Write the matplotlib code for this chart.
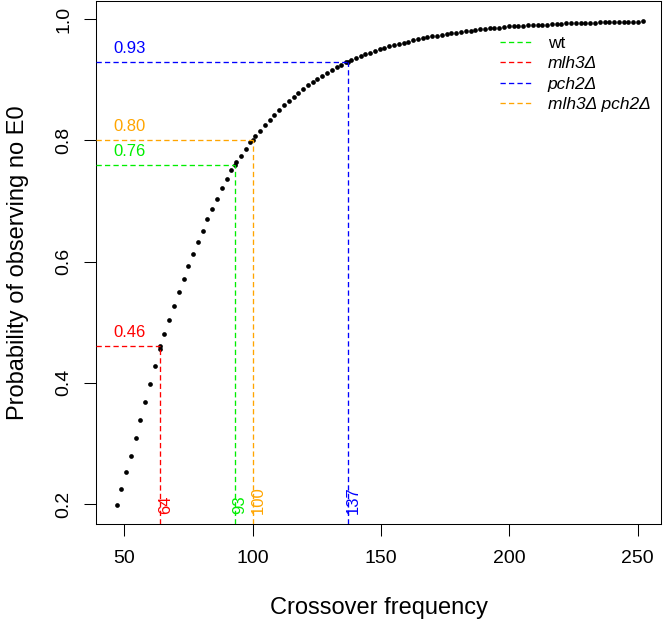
import numpy as np
import matplotlib
matplotlib.use("Agg")
import matplotlib.pyplot as plt
from matplotlib.lines import Line2D

plt.rcParams['font.family'] = ['Liberation Sans', 'DejaVu Sans']
plt.rcParams['lines.scale_dashes'] = False

# crossover frequency grid (evenly spaced) and probability of observing no E0
co_freq = np.linspace(47, 252, 111)
p_no_e0 = [
    0.198, 0.225, 0.252, 0.280, 0.309, 0.339, 0.368, 0.398, 0.427, 0.456,
    0.481, 0.504, 0.527, 0.549, 0.571, 0.592, 0.613, 0.632, 0.651, 0.670,
    0.687, 0.704, 0.721, 0.736, 0.751, 0.764, 0.775, 0.786, 0.797, 0.807,
    0.816, 0.825, 0.834, 0.842, 0.850, 0.858, 0.865, 0.872, 0.879, 0.885,
    0.891, 0.896, 0.902, 0.907, 0.912, 0.916, 0.921, 0.925, 0.929, 0.933,
    0.936, 0.939, 0.942, 0.945, 0.948, 0.950, 0.953, 0.955, 0.957, 0.959,
    0.961, 0.963, 0.965, 0.967, 0.969, 0.970, 0.972, 0.973, 0.974, 0.976,
    0.977, 0.978, 0.979, 0.980, 0.981, 0.982, 0.983, 0.984, 0.985, 0.986,
    0.986, 0.987, 0.988, 0.988, 0.989, 0.989, 0.990, 0.990, 0.990, 0.991,
    0.991, 0.992, 0.992, 0.992, 0.993, 0.993, 0.993, 0.994, 0.994, 0.994,
    0.994, 0.995, 0.995, 0.995, 0.995, 0.996, 0.996, 0.996, 0.996, 0.996,
    0.997,
]

# observed genotypes
genotypes = ['wt', 'mlh3Δ', 'pch2Δ', 'mlh3Δ pch2Δ']
geno_co = [93, 64, 137, 100]
geno_p = [0.76, 0.46, 0.93, 0.80]
geno_colors = ['#00ee00', '#ff0000', '#0000ff', '#ffa500']
geno_italic = [False, True, True, True]

x_ticks = [50, 100, 150, 200, 250]
y_ticks = [0.2, 0.4, 0.6, 0.8, 1.0]
x_lim = (39.0, 259.1)
y_lim = (0.167, 1.030)

dash = (0, (3.8, 2.3))
lw = 0.95

fig = plt.figure(figsize=(6.67, 6.22), dpi=100)
ax = fig.add_axes([96 / 667, 1 - 524 / 622, 565 / 667, 523 / 622])
ax.set_xlim(*x_lim)
ax.set_ylim(*y_lim)

ax.plot(co_freq, p_no_e0, 'o', color='black', markersize=3.4,
        markeredgewidth=0, zorder=2)
ax.plot(geno_co, geno_p, 'o', color='black', markersize=3.4,
        markeredgewidth=0, zorder=2)

for x, p, c in zip(geno_co, geno_p, geno_colors):
    ax.plot([x_lim[0], x], [p, p], color=c, linestyle=dash, linewidth=lw, zorder=3)
    ax.plot([x, x], [y_lim[0], p], color=c, linestyle=dash, linewidth=lw, zorder=3)
    ax.annotate('%.2f' % p, xy=(45.6, p), xytext=(0, 6.5), textcoords='offset points',
                color=c, fontsize=12, ha='left', va='baseline')
    ax.annotate(str(x), xy=(x, 0.1835), xytext=(-1.5, 0), textcoords='offset points',
                rotation=90, color=c, fontsize=12, ha='left', va='bottom')

handles = [Line2D([], [], color=c, linestyle=dash, linewidth=lw) for c in geno_colors]
leg = ax.legend(handles, genotypes, loc='upper left', bbox_to_anchor=(0.715, 0.934),
                frameon=False, fontsize=12.5, handlelength=1.9, handletextpad=0.86,
                labelspacing=0.31, borderpad=0, borderaxespad=0)
for t, it in zip(leg.get_texts(), geno_italic):
    if it:
        t.set_fontstyle('italic')

ax.set_xticks(x_ticks)
ax.set_yticks(y_ticks)
ax.set_yticklabels(['%.1f' % v for v in y_ticks], rotation=90, va='center')
ax.tick_params(direction='out', length=8.6, width=0.75, labelsize=14)
ax.tick_params(axis='x', pad=9.9)
ax.tick_params(axis='y', pad=8.6)
for s in ax.spines.values():
    s.set_linewidth(0.75)

ax.set_xlabel('Crossover frequency', fontsize=17)
ax.set_ylabel('Probability of observing no E0', fontsize=17)
ax.xaxis.set_label_coords(0.5, (524 - 608) / 523)
ax.xaxis.label.set_va('center')
ax.yaxis.set_label_coords((18 - 96) / 565, 0.5)
ax.yaxis.label.set_va('center')

fig.savefig('out.png', dpi=100)
